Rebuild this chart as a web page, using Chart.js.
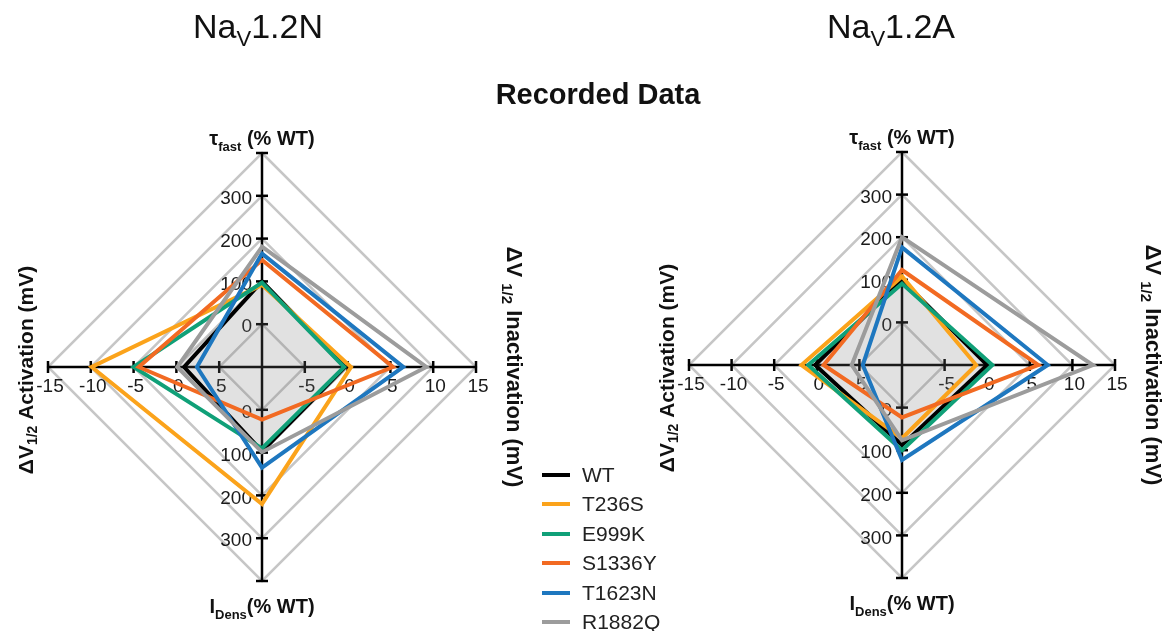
<!DOCTYPE html>
<html lang="en">
<head>
<meta charset="UTF-8">
<title>Nav1.2 radar plots</title>
<script src="https://cdn.jsdelivr.net/npm/chart.js"></script>
<style>
  body { margin: 0; background: #fff; font-family: 'Liberation Sans', Arial, sans-serif; color: #111; }
  #wrap { position: relative; width: 1171px; height: 631px; overflow: hidden; }
  canvas { position: absolute; left: 0; top: 0; }
  .title { position: absolute; font-size: 34px; line-height: 34px; white-space: nowrap; transform: translateX(-50%); }
  .title sub { font-size: 22px; vertical-align: -8px; line-height: 0; }
  #rec { font-size: 29px; line-height: 29px; font-weight: bold; }
  #legend { position: absolute; left: 542px; top: 460px; font-size: 21px; color: #222; }
  .item { height: 29.5px; display: flex; align-items: center; white-space: nowrap; }
  .sw { width: 28px; height: 4px; margin-right: 12px; }
</style>
</head>
<body>
<div id="wrap">
  <canvas id="chartN" width="1171" height="631"></canvas>
  <canvas id="chartA" width="1171" height="631"></canvas>
  <div class="title" style="left:258px; top:9px;">Na<sub>V</sub>1.2N</div>
  <div class="title" style="left:891px; top:9px;">Na<sub>V</sub>1.2A</div>
  <div class="title" id="rec" style="left:598px; top:80px;">Recorded Data</div>
  <div id="legend"></div>
</div>

<script>
// axes, clockwise from the top
const axisNames = ['τfast (% WT)', 'ΔV1/2 Inactivation (mV)', 'IDens (% WT)', 'ΔV1/2 Activation (mV)'];
const variants = ['WT', 'T236S', 'E999K', 'S1336Y', 'T1623N', 'R1882Q'];
const colors = ['#000000', '#FBA31B', '#10A078', '#F26A22', '#1E77BF', '#9C9C9C'];

// Nav1.2N recorded data
const nTauFast = [100, 92, 97, 150, 165, 181];
const nInact   = [-0.3, 0.4, -0.4, 5.3, 6.5, 9.2];
const nIDens   = [97, 220, 90, 23, 135, 99];
const nAct     = [0.9, -9.9, -5.0, -4.4, 2.4, 0.1];

// Nav1.2A recorded data
const aTauFast = [100, 108, 91, 123, 176, 200];
const aInact   = [0, -1.3, 0.6, 6.0, 7.1, 12.4];
const aIDens   = [88, 72, 100, 23, 123, 77];
const aAct     = [-0.2, -1.8, -1.0, 0.8, 5.4, 4.1];

// WT reference (shaded diamond)
const wtRef = [100, 0, 100, 0];

// tick labels per axis, from the centre outwards (steps 1..n)
const tauTicks   = ['0', '100', '200', '300'];
const inactTicks = ['-5', '0', '5', '10', '15'];
const idensTicks = ['0', '100', '200', '300'];
const actTicks   = ['5', '0', '-5', '-10', '-15'];

// each axis has its own scale; map it onto a common 0..5 radius
const toR = [
  v => (v + 100) / 100,
  v => (v + 10) / 5,
  v => (v + 100) / 100,
  v => (10 - v) / 5
];

const FONT = "'Liberation Sans', Arial, sans-serif";

function drawRich(ctx, parts, size, x, y, rot, baseline) {
  ctx.save();
  ctx.translate(x, y);
  ctx.rotate(rot);
  ctx.textBaseline = baseline;
  ctx.textAlign = 'left';
  ctx.fillStyle = '#111';
  let w = 0;
  parts.forEach(p => {
    ctx.font = 'bold ' + (p[1] ? Math.round(size * 0.66) : size) + 'px ' + FONT;
    w += ctx.measureText(p[0]).width;
  });
  let cx = -w / 2;
  parts.forEach(p => {
    ctx.font = 'bold ' + (p[1] ? Math.round(size * 0.66) : size) + 'px ' + FONT;
    ctx.fillText(p[0], cx, p[1] ? size * 0.3 : 0);
    cx += ctx.measureText(p[0]).width;
  });
  ctx.restore();
}

const axisDecor = {
  id: 'axisDecor',
  beforeDatasetsDraw(chart) {
    const s = chart.scales.r;
    const ctx = chart.ctx;
    const tickSets = [tauTicks, inactTicks, idensTicks, actTicks];
    ctx.save();
    ctx.strokeStyle = '#000';
    ctx.lineWidth = 2.5;
    for (let i = 0; i < 4; i++) {
      for (let r = 1; r <= 5; r++) {
        const p = s.getPointPositionForValue(i, r);
        const nx = -Math.sin(p.angle), ny = Math.cos(p.angle);
        ctx.beginPath();
        ctx.moveTo(p.x - 6 * nx, p.y - 6 * ny);
        ctx.lineTo(p.x + 6 * nx, p.y + 6 * ny);
        ctx.stroke();
      }
    }
    ctx.font = '19px ' + FONT;
    ctx.fillStyle = '#1a1a1a';
    tickSets.forEach((ticks, i) => {
      ticks.forEach((t, k) => {
        const p = s.getPointPositionForValue(i, k + 1);
        if (i === 0 || i === 2) {
          ctx.textAlign = 'right';
          ctx.textBaseline = 'middle';
          ctx.fillText(t, p.x - 10, p.y + 3);
        } else {
          ctx.textAlign = 'center';
          ctx.textBaseline = 'top';
          ctx.fillText(t, p.x + 2, p.y + 10);
        }
      });
    });
    ctx.restore();
  },
  afterDraw(chart) {
    const s = chart.scales.r;
    const ctx = chart.ctx;
    const R = s.drawingArea, cx = s.xCenter, cy = s.yCenter;
    drawRich(ctx, [['τ', 0], ['fast', 1], [' (% WT)', 0]], 20, cx, cy - R - 8, 0, 'alphabetic');
    drawRich(ctx, [['I', 0], ['Dens', 1], ['(% WT)', 0]], 20, cx, cy + R + 32, 0, 'alphabetic');
    drawRich(ctx, [['ΔV', 0], ['1/2', 1], [' Activation (mV)', 0]], 21, cx - R - 21, cy + 3, -Math.PI / 2, 'middle');
    drawRich(ctx, [['ΔV ', 0], ['1/2', 1], [' Inactivation (mV)', 0]], 22, cx + R + 37, cy, Math.PI / 2, 'middle');
  }
};

function makeChart(id, tau, inact, idens, act, cx, cy, R) {
  const datasets = [{
    label: 'WT reference',
    data: wtRef.map((v, i) => toR[i](v)),
    borderWidth: 0,
    backgroundColor: 'rgba(120,120,120,0.22)',
    fill: true,
    pointRadius: 0,
    order: 100
  }];
  variants.forEach((name, k) => {
    datasets.push({
      label: name,
      data: [toR[0](tau[k]), toR[1](inact[k]), toR[2](idens[k]), toR[3](act[k])],
      borderColor: colors[k],
      borderWidth: 4,
      borderJoinStyle: 'miter',
      fill: false,
      pointRadius: 0,
      order: variants.length - k
    });
  });
  return new Chart(document.getElementById(id), {
    type: 'radar',
    data: { labels: axisNames, datasets: datasets },
    options: {
      responsive: false,
      animation: false,
      layout: { padding: { left: cx - R, top: cy - R, right: 1171 - cx - R, bottom: 631 - cy - R } },
      plugins: { legend: { display: false }, tooltip: { enabled: false } },
      scales: {
        r: {
          min: 0,
          max: 5,
          ticks: { stepSize: 1, display: false },
          grid: { color: '#c6c6c6', lineWidth: 2.5 },
          angleLines: { color: '#000', lineWidth: 2.5 },
          pointLabels: { display: false }
        }
      }
    },
    plugins: [axisDecor]
  });
}

makeChart('chartN', nTauFast, nInact, nIDens, nAct, 262, 367, 214);
makeChart('chartA', aTauFast, aInact, aIDens, aAct, 902, 365, 213);

// legend
const legend = document.getElementById('legend');
variants.forEach((name, k) => {
  const row = document.createElement('div');
  row.className = 'item';
  const sw = document.createElement('span');
  sw.className = 'sw';
  sw.style.background = colors[k];
  row.appendChild(sw);
  row.appendChild(document.createTextNode(name));
  legend.appendChild(row);
});
</script>
</body>
</html>
